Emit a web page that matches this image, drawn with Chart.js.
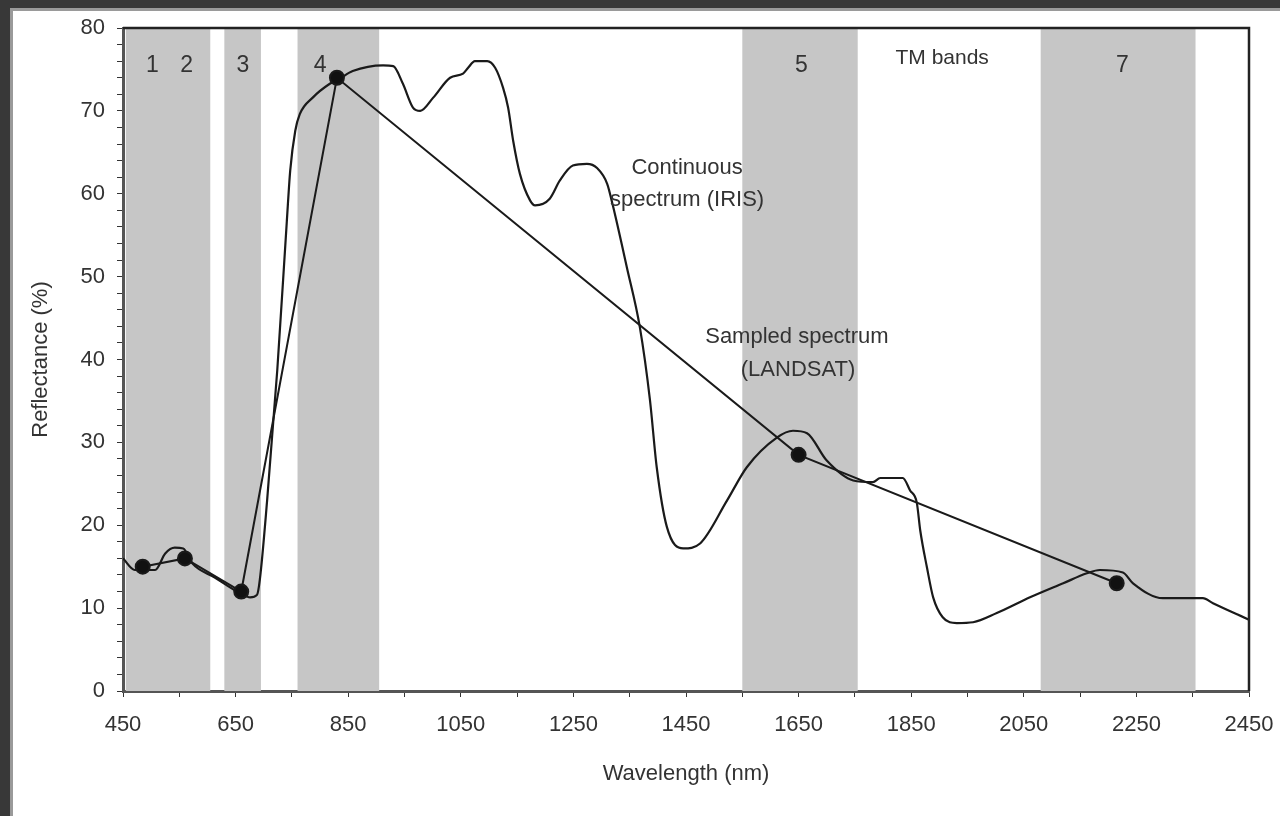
<!DOCTYPE html>
<html>
<head>
<meta charset="utf-8">
<script src="https://cdn.jsdelivr.net/npm/chart.js@4.4.0/dist/chart.umd.min.js"></script>
<style>
  html, body { margin: 0; padding: 0; width: 1280px; height: 816px; overflow: hidden; background: #383838; }
  #panel { position: absolute; left: 10px; top: 8px; right: 0; bottom: 0; background: #fff; border-left: 3px solid #9a9a9a; border-top: 3px solid #9a9a9a; }
  #wrap { position: absolute; left: 0; top: 0; width: 1280px; height: 816px; }
</style>
</head>
<body>
<div id="panel"></div>
<div id="wrap"><canvas id="spectrumChart" width="1280" height="816"></canvas></div>
<script>
// continuous spectrum (IRIS)
const irisWavelengths = [450, 471, 507, 525, 542, 557, 573, 613, 658, 676, 688, 693, 706, 724, 741, 747, 756, 764, 787, 818, 835, 858, 912, 930, 947, 965, 978, 1001, 1031, 1054, 1063, 1075, 1097, 1111, 1125, 1134, 1143, 1155, 1173, 1182, 1208, 1226, 1249, 1274, 1292, 1310, 1320, 1345, 1368, 1386, 1398, 1416, 1445, 1475, 1523, 1558, 1612, 1640, 1665, 1700, 1747, 1782, 1795, 1835, 1848, 1860, 1866, 1878, 1889, 1906, 1931, 1960, 2002, 2061, 2120, 2162, 2185, 2226, 2244, 2297, 2368, 2386, 2450];
const irisReflectance = [16.0, 14.6, 14.6, 16.6, 17.3, 17.2, 15.4, 13.7, 11.8, 11.3, 11.6, 13.4, 23.0, 38.7, 56.7, 62.8, 67.6, 69.6, 71.6, 73.3, 73.9, 74.8, 75.5, 75.4, 73.3, 70.4, 70.0, 71.6, 74.0, 74.5, 75.2, 76.0, 76.0, 75.2, 72.8, 70.4, 66.4, 62.4, 59.2, 58.6, 59.4, 61.6, 63.4, 63.6, 63.1, 61.2, 58.6, 51.1, 43.9, 35.1, 27.0, 19.8, 17.2, 17.8, 23.0, 27.0, 30.6, 31.4, 31.1, 27.8, 25.4, 25.2, 25.7, 25.7, 24.2, 22.7, 19.4, 14.9, 11.3, 8.9, 8.2, 8.3, 9.4, 11.3, 13.0, 14.2, 14.6, 14.3, 13.0, 11.2, 11.2, 10.6, 8.6];

// sampled spectrum (LANDSAT TM)
const landsatWavelengths = [485, 560, 660, 830, 1650, 2215];
const landsatReflectance = [15, 16, 12, 74, 28.5, 13];

// TM bands (grey areas)
const bandStarts = [455, 630, 760, 1550, 2080];
const bandEnds = [605, 695, 905, 1755, 2355];
const bandNames = ['1', '2', '3', '4', '5', '7'];
const bandNameWavelengths = [502, 563, 663, 800, 1655, 2225];

const xTickLabels = [450, 650, 850, 1050, 1250, 1450, 1650, 1850, 2050, 2250, 2450];
const yTickLabels = [0, 10, 20, 30, 40, 50, 60, 70, 80];

const textColor = '#333';
const fontFamily = '"Liberation Sans", Arial, sans-serif';

function toPoints(xs, ys) {
    return xs.map((x, i) => ({x: x, y: ys[i]}));
}

const bandsPlugin = {
    id: 'bands',
    beforeDatasetsDraw(chart) {
        const {ctx, chartArea, scales: {x}} = chart;
        ctx.save();
        ctx.fillStyle = '#c6c6c6';
        bandStarts.forEach((start, i) => {
            const left = x.getPixelForValue(start);
            const right = x.getPixelForValue(bandEnds[i]);
            ctx.fillRect(left, chartArea.top, right - left, chartArea.bottom - chartArea.top);
        });
        ctx.restore();
    },
    afterDatasetsDraw(chart) {
        const {ctx, chartArea, scales: {x, y}} = chart;
        ctx.save();
        // frame on top and right
        ctx.strokeStyle = '#222';
        ctx.lineWidth = 2.5;
        ctx.beginPath();
        ctx.moveTo(chartArea.left, chartArea.top);
        ctx.lineTo(chartArea.right, chartArea.top);
        ctx.lineTo(chartArea.right, chartArea.bottom);
        ctx.stroke();

        ctx.fillStyle = textColor;
        ctx.textAlign = 'center';
        ctx.textBaseline = 'middle';
        ctx.font = '23px ' + fontFamily;
        bandNames.forEach((name, i) => {
            ctx.fillText(name, x.getPixelForValue(bandNameWavelengths[i]), y.getPixelForValue(75.5));
        });
        ctx.font = '21px ' + fontFamily;
        ctx.fillText('TM bands', x.getPixelForValue(1905), y.getPixelForValue(76.3));
        ctx.font = '22px ' + fontFamily;
        ctx.fillText('Continuous', x.getPixelForValue(1452), y.getPixelForValue(63.1));
        ctx.fillText('spectrum (IRIS)', x.getPixelForValue(1452), y.getPixelForValue(59.2));
        ctx.fillText('Sampled spectrum', x.getPixelForValue(1647), y.getPixelForValue(42.7));
        ctx.fillText('(LANDSAT)', x.getPixelForValue(1649), y.getPixelForValue(38.7));
        ctx.restore();
    }
};

Chart.defaults.font.family = fontFamily;
Chart.defaults.color = textColor;

const spectrumChart = new Chart(document.getElementById('spectrumChart').getContext('2d'), {
    type: 'scatter',
    data: {
        datasets: [{
            label: 'Sampled spectrum (LANDSAT)',
            data: toPoints(landsatWavelengths, landsatReflectance),
            showLine: true,
            borderColor: '#1a1a1a',
            backgroundColor: '#111',
            borderWidth: 2,
            pointRadius: 7,
            pointHoverRadius: 7,
            tension: 0
        }, {
            label: 'Continuous spectrum (IRIS)',
            data: toPoints(irisWavelengths, irisReflectance),
            showLine: true,
            borderColor: '#1a1a1a',
            borderWidth: 2.2,
            pointRadius: 0,
            cubicInterpolationMode: 'monotone'
        }]
    },
    options: {
        responsive: false,
        animation: false,
        layout: {
            padding: {top: 28, right: 31, left: 0, bottom: 0}
        },
        plugins: {
            legend: {display: false},
            tooltip: {enabled: false}
        },
        scales: {
            x: {
                type: 'linear',
                min: 450,
                max: 2450,
                afterFit(scale) {
                    scale.height = 125;
                    scale.paddingRight = 0;
                    scale.paddingLeft = 0;
                },
                ticks: {
                    stepSize: 100,
                    autoSkip: false,
                    maxRotation: 0,
                    padding: 15,
                    font: {size: 22},
                    color: textColor,
                    callback: v => xTickLabels.includes(v) ? String(v) : ''
                },
                grid: {
                    drawOnChartArea: false,
                    drawTicks: true,
                    tickLength: 6,
                    color: '#333'
                },
                border: {color: '#555', width: 3},
                title: {
                    display: true,
                    text: 'Wavelength (nm)',
                    font: {size: 22},
                    color: textColor,
                    padding: {top: 0, bottom: 29}
                }
            },
            y: {
                min: 0,
                max: 80,
                afterFit(scale) { scale.width = 123; },
                ticks: {
                    stepSize: 2,
                    maxTicksLimit: 100,
                    autoSkip: false,
                    padding: 12,
                    font: {size: 22},
                    color: textColor,
                    callback: v => yTickLabels.includes(v) ? String(v) : ''
                },
                grid: {
                    drawOnChartArea: false,
                    drawTicks: true,
                    tickLength: 6,
                    color: '#333'
                },
                border: {color: '#555', width: 3},
                title: {
                    display: true,
                    text: 'Reflectance (%)',
                    font: {size: 22},
                    color: textColor,
                    padding: {top: 28, bottom: 0}
                }
            }
        }
    },
    plugins: [bandsPlugin]
});
</script>
</body>
</html>
